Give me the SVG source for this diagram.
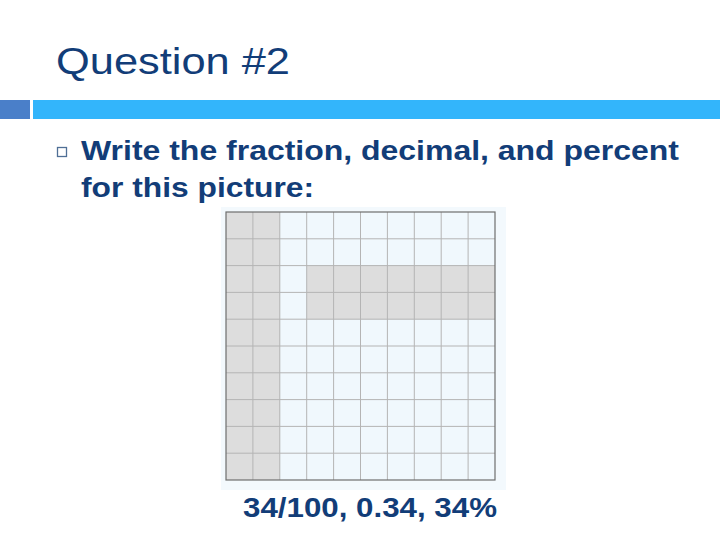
<svg xmlns="http://www.w3.org/2000/svg" width="720" height="540" viewBox="0 0 720 540">
<style>
.t{font-family:"Liberation Sans",Arial,sans-serif;fill:#123d78}
.b{font-weight:bold;font-size:28px}
.g{stroke:#b4b4b4;stroke-width:1}
</style>
<rect width="720" height="540" fill="#ffffff"/>
<g id="title"><text class="t" x="56" y="74" font-size="37" textLength="234" lengthAdjust="spacingAndGlyphs">Question #2</text></g>
<g id="header-bar">
<rect x="0" y="100" width="30" height="19" fill="#4a7fc9"/>
<rect x="33" y="100" width="687" height="19" fill="#33b5fb"/>
</g>
<g id="bullet">
<rect x="57.5" y="147.5" width="9" height="9" fill="none" stroke="#4f6f96" stroke-width="1.3"/>
<text class="t b" x="81" y="160" textLength="598" lengthAdjust="spacingAndGlyphs">Write the fraction, decimal, and percent</text>
<text class="t b" x="81" y="197" textLength="233" lengthAdjust="spacingAndGlyphs">for this picture:</text>
</g>
<g id="grid">
<rect x="221" y="207" width="285" height="283" fill="#f3f9fd"/>
<rect x="226" y="212" width="269" height="268" fill="#f0f8fd"/>
<rect x="226" y="212" width="54" height="268" fill="#dddddd"/>
<rect x="307" y="265.6" width="188" height="53.6" fill="#dddddd"/>
<g class="g">
<path d="M252.9 212V480M279.8 212V480M306.7 212V480M333.6 212V480M360.5 212V480M387.4 212V480M414.3 212V480M441.2 212V480M468.1 212V480"/>
<path d="M226 238.8H495M226 265.6H495M226 292.4H495M226 319.2H495M226 346H495M226 372.8H495M226 399.6H495M226 426.4H495M226 453.2H495"/>
</g>
<rect x="226" y="212" width="269" height="268" fill="none" stroke="#6e6e6e" stroke-width="1.2"/>
</g>
<g id="answer"><text class="t b" x="243" y="517" textLength="254" lengthAdjust="spacingAndGlyphs">34/100, 0.34, 34%</text></g>
</svg>
